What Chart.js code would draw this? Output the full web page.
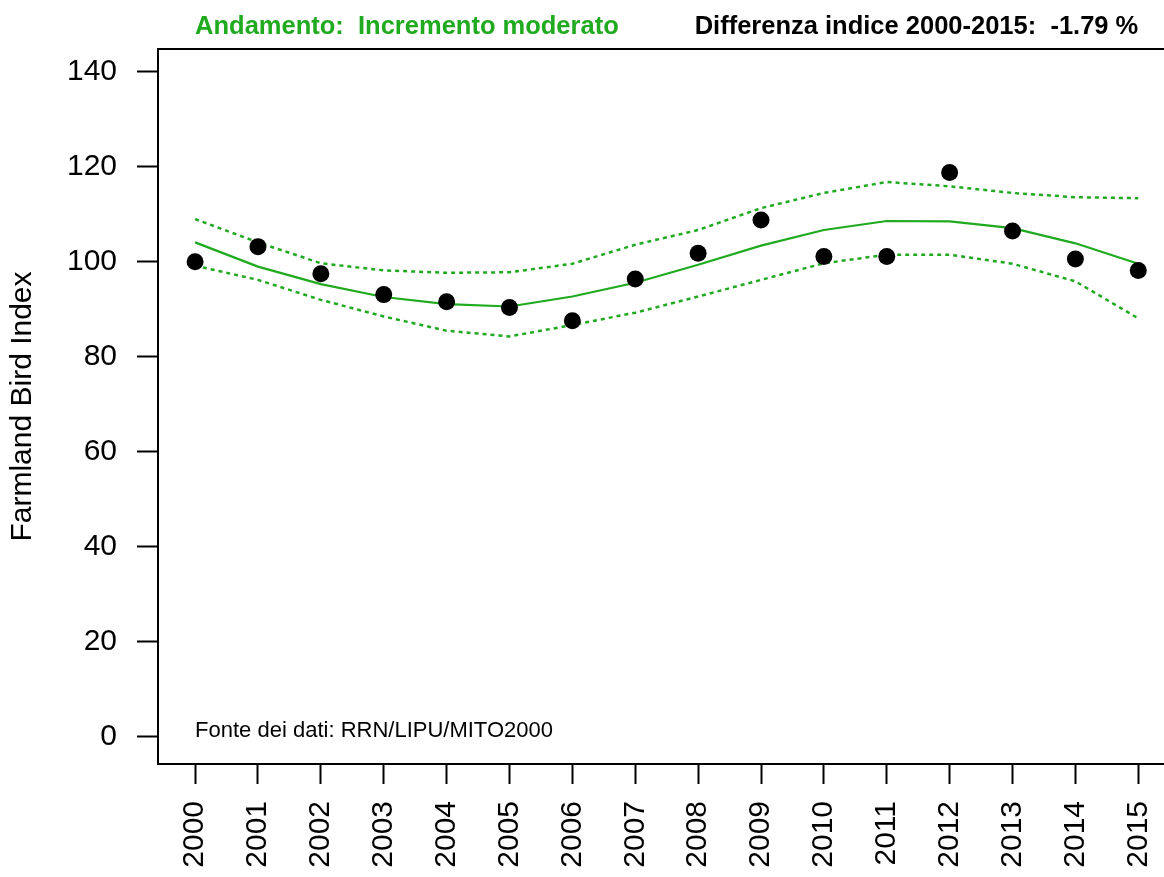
<!DOCTYPE html>
<html>
<head>
<meta charset="utf-8">
<title>Farmland Bird Index</title>
<script src="https://cdn.jsdelivr.net/npm/chart.js@4.4.1/dist/chart.umd.min.js"></script>
<style>
    html, body { margin: 0; padding: 0; background: #fff; overflow: hidden; }
    #wrap { width: 1164px; height: 877px; overflow: hidden; }
</style>
</head>
<body>
<div id="wrap">
    <canvas id="fbiChart" width="1200" height="877"></canvas>
</div>
<script>
// Anni e valori
var years = [2000, 2001, 2002, 2003, 2004, 2005, 2006, 2007, 2008, 2009, 2010, 2011, 2012, 2013, 2014, 2015];
var indexValues = [100, 103.2, 97.5, 93.1, 91.6, 90.4, 87.6, 96.4, 101.8, 108.8, 101.1, 101.1, 118.8, 106.5, 100.6, 98.2];
var trendValues = [104.1, 99.0, 95.3, 92.6, 91.1, 90.6, 92.7, 95.6, 99.4, 103.4, 106.7, 108.6, 108.5, 107.1, 103.9, 99.6];
var upperValues = [109.0, 104.1, 99.7, 98.2, 97.7, 97.8, 99.6, 103.6, 106.7, 111.3, 114.5, 116.8, 115.9, 114.5, 113.6, 113.4];
var lowerValues = [99.2, 96.2, 92.0, 88.5, 85.5, 84.3, 86.7, 89.3, 92.7, 96.2, 99.7, 101.5, 101.5, 99.6, 95.9, 88.1];
var yTicks = [0, 20, 40, 60, 80, 100, 120, 140];

var trendTitle = 'Andamento:  Incremento moderato';
var diffTitle = 'Differenza indice 2000-2015:  -1.79 %';
var sourceNote = 'Fonte dei dati: RRN/LIPU/MITO2000';

var green = '#1faa1f';
var fontFamily = "'Liberation Sans', Arial, sans-serif";

function toPoints(values) {
    return years.map(function(yr, i) { return { x: yr, y: values[i] }; });
}

// box + testi (titoli e fonte)
var boxAndText = {
    id: 'boxAndText',
    afterDraw: function(chart) {
        var ctx = chart.ctx;
        var area = chart.chartArea;
        var xs = chart.scales.x;
        var ys = chart.scales.y;
        ctx.save();
        ctx.strokeStyle = '#000';
        ctx.lineWidth = 2;
        ctx.strokeRect(area.left, area.top, area.right - area.left, area.bottom - area.top);

        ctx.textBaseline = 'alphabetic';
        ctx.font = 'bold 25.5px ' + fontFamily;
        ctx.fillStyle = green;
        ctx.textAlign = 'left';
        ctx.fillText(trendTitle, xs.getPixelForValue(years[0]), 34);
        ctx.fillStyle = '#000';
        ctx.textAlign = 'right';
        ctx.fillText(diffTitle, xs.getPixelForValue(years[years.length - 1]), 34);

        ctx.font = '22px ' + fontFamily;
        ctx.textAlign = 'left';
        ctx.fillText(sourceNote, xs.getPixelForValue(years[0]), ys.getPixelForValue(0));
        ctx.restore();
    }
};

var fbiChart = new Chart(document.getElementById('fbiChart'), {
    type: 'line',
    data: {
        datasets: [{
            label: 'Indice',
            data: toPoints(indexValues),
            showLine: false,
            pointRadius: 8.5,
            pointHoverRadius: 8.5,
            pointBackgroundColor: '#000',
            pointBorderColor: '#000',
            pointBorderWidth: 0
        },
        {
            label: 'Trend',
            data: toPoints(trendValues),
            borderColor: green,
            borderWidth: 2.2,
            pointRadius: 0,
            tension: 0,
            fill: false
        },
        {
            label: 'Limite superiore',
            data: toPoints(upperValues),
            borderColor: green,
            borderWidth: 2.5,
            borderDash: [4, 4],
            pointRadius: 0,
            tension: 0,
            fill: false
        },
        {
            label: 'Limite inferiore',
            data: toPoints(lowerValues),
            borderColor: green,
            borderWidth: 2.5,
            borderDash: [4, 4],
            pointRadius: 0,
            tension: 0,
            fill: false
        }]
    },
    options: {
        responsive: false,
        animation: false,
        devicePixelRatio: 1,
        layout: {
            padding: { top: 49, right: 24, bottom: 0, left: 0 }
        },
        plugins: {
            legend: { display: false },
            tooltip: { enabled: false }
        },
        scales: {
            x: {
                type: 'linear',
                min: 1999.41,
                max: 2015.6,
                afterFit: function(scale) { scale.height = 113; },
                afterBuildTicks: function(scale) {
                    scale.ticks = years.map(function(v) { return { value: v }; });
                },
                grid: {
                    drawOnChartArea: false,
                    drawTicks: true,
                    tickLength: 20,
                    tickWidth: 2,
                    tickColor: '#000'
                },
                border: { display: true, color: '#000', width: 2 },
                ticks: {
                    autoSkip: false,
                    maxRotation: 90,
                    minRotation: 90,
                    padding: 17,
                    color: '#000',
                    font: { family: fontFamily, size: 30 },
                    callback: function(v) { return String(v); }
                }
            },
            y: {
                type: 'linear',
                min: -5.7,
                max: 144.8,
                afterFit: function(scale) { scale.width = 158; },
                afterBuildTicks: function(scale) {
                    scale.ticks = yTicks.map(function(v) { return { value: v }; });
                },
                grid: {
                    drawOnChartArea: false,
                    drawTicks: true,
                    tickLength: 21,
                    tickWidth: 2,
                    tickColor: '#000'
                },
                border: { display: true, color: '#000', width: 2 },
                ticks: {
                    padding: 20,
                    color: '#000',
                    font: { family: fontFamily, size: 30 },
                    callback: function(v) { return String(v); }
                },
                title: {
                    display: true,
                    text: 'Farmland Bird Index',
                    color: '#000',
                    padding: { top: 5, bottom: 0 },
                    font: { family: fontFamily, size: 30 }
                }
            }
        }
    },
    plugins: [boxAndText]
});
</script>
</body>
</html>
